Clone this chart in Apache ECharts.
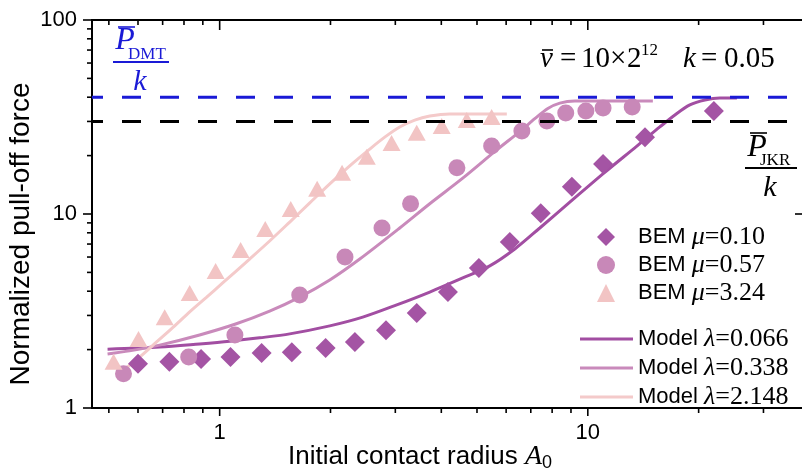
<!DOCTYPE html>
<html>
<head>
<meta charset="utf-8">
<script src="https://cdn.jsdelivr.net/npm/echarts@6/dist/echarts.min.js"></script>
<style>html,body{margin:0;padding:0;background:#fff}#chart{width:802px;height:474px}</style>
</head>
<body>
<div id="chart"></div>
<script>
// ---- axis ranges and ticks ----
const xMin = 0.45, xMax = 38.9, yMin = 1, yMax = 100;
const xMajorTicks = [1, 10];
const xMinorTicks = [0.5, 0.6, 0.7, 0.8, 0.9, 2, 3, 4, 5, 6, 7, 8, 9, 20, 30];
const yMajorTicks = [1, 10, 100];
const yMinorTicks = [2, 3, 4, 5, 6, 7, 8, 9, 20, 30, 40, 50, 60, 70, 80, 90];

// ---- reference levels ----
const dmtLevel = 40;   // P_DMT / k
const jkrLevel = 30;   // P_JKR / k

// ---- BEM data [A0, force] ----
const bemMu010 = [[0.60,1.69],[0.73,1.73],[0.89,1.79],[1.07,1.83],[1.30,1.92],[1.57,1.94],[1.94,2.04],[2.33,2.19],[2.83,2.52],[3.43,3.09],[4.17,3.96],[5.06,5.27],[6.14,7.17],[7.45,10.1],[9.05,13.8],[11.0,18.1],[14.3,24.9],[22.0,34.0]];
const bemMu057 = [[0.548,1.50],[0.824,1.83],[1.10,2.38],[1.65,3.82],[2.19,6.0],[2.76,8.47],[3.30,11.3],[4.41,17.3],[5.48,22.4],[6.62,26.8],[7.74,30.2],[8.71,33.2],[9.88,34.0],[11.0,35.2],[13.2,35.6]];
const bemMu324 = [[0.515,1.73],[0.602,2.27],[0.709,2.94],[0.829,3.92],[0.975,5.08],[1.14,6.52],[1.33,8.37],[1.56,10.6],[1.84,13.5],[2.15,16.3],[2.51,19.7],[2.93,23.2],[3.43,26.2],[4.01,28.4],[4.69,30.5],[5.48,31.6]];

// ---- model curves [A0, force] ----
const modelLam0066 = [[0.496,2.01],[0.687,2.06],[0.882,2.14],[1.065,2.21],[1.284,2.30],[1.550,2.41],[1.991,2.65],[2.447,2.94],[3.027,3.40],[3.721,3.96],[4.574,4.68],[5.416,5.40],[6.334,6.60],[7.405,8.47],[8.935,11.5],[10.99,16.1],[13.59,22.4],[15.69,28.1],[17.24,32.4],[18.93,36.5],[20.80,38.7],[22.84,39.6],[25.41,39.6]];
const modelLam0338 = [[0.496,1.90],[0.569,1.97],[0.687,2.11],[0.882,2.38],[1.105,2.71],[1.367,3.16],[1.650,3.73],[1.991,4.57],[2.402,5.86],[3.084,8.47],[3.721,11.3],[4.574,15.3],[5.658,21.4],[6.535,26.6],[7.178,31.0],[7.788,35.0],[8.395,37.3],[9.220,38.2],[15.02,38.2]];
const modelLam2148 = [[0.548,1.57],[0.606,1.83],[0.674,2.19],[0.755,2.65],[0.829,3.13],[0.922,3.73],[1.019,4.41],[1.206,5.86],[1.367,7.26],[1.550,9.09],[1.757,11.4],[1.991,14.3],[2.256,17.7],[2.556,21.6],[2.808,24.9],[3.084,28.1],[3.388,30.5],[3.721,32.0],[4.217,32.8],[6.026,32.8]];

// ---- legend names ----
const scatterNames = ['BEM μ=0.10', 'BEM μ=0.57', 'BEM μ=3.24'];
const scatterIcons = ['diamond', 'circle', 'triangle'];
const modelNames = ['Model λ=0.066', 'Model λ=0.338', 'Model λ=2.148'];
const legendRich = {
  'BEM μ=0.10': '{s|BEM }{g|μ}{n|=0.10}',
  'BEM μ=0.57': '{s|BEM }{g|μ}{n|=0.57}',
  'BEM μ=3.24': '{s|BEM }{g|μ}{n|=3.24}',
  'Model λ=0.066': '{s|Model }{g|λ}{n|=0.066}',
  'Model λ=0.338': '{s|Model }{g|λ}{n|=0.338}',
  'Model λ=2.148': '{s|Model }{g|λ}{n|=2.148}'
};

const cDark = '#a454a4', cMid = '#c888b8', cLight = '#f2c4c4';
const lDark = '#a24ea2', lMid = '#c98abb', lLight = '#f4caca';
const blue = '#1a1ad6';
const SANS = 'Liberation Sans', SERIF = 'Liberation Serif';

const richStyles = {
  s: {fontFamily: SANS, fontSize: 22, lineHeight: 26, color: '#000'},
  g: {fontFamily: SERIF, fontStyle: 'italic', fontSize: 26, lineHeight: 26, color: '#000'},
  n: {fontFamily: SERIF, fontSize: 26, lineHeight: 26, color: '#000'}
};

function isPow10(v) { const l = Math.log10(v); return Math.abs(l - Math.round(l)) < 1e-6; }

function xTickItem(params, api) {
  const v = api.value(0);
  const major = xMajorTicks.indexOf(v) >= 0;
  const b = api.coord([v, yMin]), t = api.coord([v, yMax]);
  const lb = major ? 8 : 5, lt = major ? 10 : 5;
  return {type: 'group', children: [
    {type: 'line', shape: {x1: b[0], y1: b[1], x2: b[0], y2: b[1] + lb}, style: {stroke: '#000', lineWidth: 1.6}},
    {type: 'line', shape: {x1: t[0], y1: t[1], x2: t[0], y2: t[1] + lt}, style: {stroke: '#000', lineWidth: 1.6}}
  ]};
}
function yTickItem(params, api) {
  const v = api.value(1);
  const major = yMajorTicks.indexOf(v) >= 0;
  const l = api.coord([xMin, v]), r = api.coord([xMax, v]);
  const ll = major ? 9 : 5;
  const children = [
    {type: 'line', shape: {x1: l[0] - ll, y1: l[1], x2: l[0], y2: l[1]}, style: {stroke: '#000', lineWidth: 1.6}}
  ];
  if (major) children.push({type: 'line', shape: {x1: r[0] - 10, y1: r[1], x2: r[0], y2: r[1]}, style: {stroke: '#000', lineWidth: 1.6}});
  return {type: 'group', children: children};
}

function txt(x, y, text, size, opts) {
  opts = opts || {};
  return {type: 'text', x: x, y: y, z: 100, style: {
    text: text, fontFamily: opts.family || SERIF, fontStyle: opts.italic ? 'italic' : 'normal',
    fontSize: size, fill: opts.color || '#000', align: opts.align || 'left', verticalAlign: 'middle'
  }};
}
function hline(x1, x2, y, color, w) {
  return {type: 'line', z: 100, shape: {x1: x1, y1: y, x2: x2, y2: y}, style: {stroke: color, lineWidth: w}};
}

const chart = echarts.init(document.getElementById('chart'), null, {renderer: 'canvas'});
chart.setOption({
  animation: false,
  backgroundColor: '#fff',
  grid: {left: 92, top: 20, right: -3, bottom: 66, show: true, borderColor: '#000', borderWidth: 2, containLabel: false, outerBoundsMode: 'none'},
  xAxis: {
    type: 'log', logBase: 10, min: xMin, max: xMax,
    axisLine: {show: true, lineStyle: {color: '#000', width: 2}},
    axisTick: {show: false}, minorTick: {show: false}, splitLine: {show: false},
    axisLabel: {color: '#000', fontFamily: SANS, fontSize: 22, margin: 14,
      formatter: v => isPow10(v) ? String(Math.round(v) >= 1 ? Math.round(v) : v) : '',
      showMinLabel: false, showMaxLabel: false}
  },
  yAxis: {
    type: 'log', logBase: 10, min: yMin, max: yMax,
    axisLine: {show: true, lineStyle: {color: '#000', width: 2}},
    axisTick: {show: false}, minorTick: {show: false}, splitLine: {show: false},
    axisLabel: {color: '#000', fontFamily: SANS, fontSize: 22, margin: 15,
      formatter: v => isPow10(v) ? String(Math.round(v)) : ''}
  },
  legend: [
    {data: scatterNames.map((n, i) => ({name: n, icon: scatterIcons[i]})), orient: 'vertical', left: 597, top: 224,
     itemWidth: 18, itemHeight: 18, itemGap: 2, symbolKeepAspect: true,
     padding: 0, formatter: n => legendRich[n], textStyle: {rich: richStyles, padding: [0, 0, 0, 18]}, selectedMode: false},
    {data: modelNames.map(n => ({name: n, icon: 'rect'})), orient: 'vertical', left: 580, top: 326,
     itemWidth: 53, itemHeight: 3, itemGap: 3,
     padding: 0, formatter: n => legendRich[n], textStyle: {rich: richStyles}, selectedMode: false}
  ],
  series: [
    {name: modelNames[0], type: 'line', data: modelLam0066, showSymbol: false, symbol: 'none', smooth: 0.3,
     lineStyle: {color: lDark, width: 3}, itemStyle: {color: lDark}, z: 2},
    {name: modelNames[1], type: 'line', data: modelLam0338, showSymbol: false, symbol: 'none', smooth: 0.3,
     lineStyle: {color: lMid, width: 3}, itemStyle: {color: lMid}, z: 2},
    {name: modelNames[2], type: 'line', data: modelLam2148, showSymbol: false, symbol: 'none', smooth: 0.3,
     lineStyle: {color: lLight, width: 3}, itemStyle: {color: lLight}, z: 2},
    {name: scatterNames[0], type: 'scatter', data: bemMu010, symbol: 'diamond', symbolSize: 20, itemStyle: {color: cDark, opacity: 1}, z: 3},
    {name: scatterNames[1], type: 'scatter', data: bemMu057, symbol: 'circle', symbolSize: 17, itemStyle: {color: cMid, opacity: 1}, z: 3},
    {name: scatterNames[2], type: 'scatter', data: bemMu324, symbol: 'triangle', symbolSize: [18, 16], itemStyle: {color: cLight, opacity: 1}, z: 3},
    {name: 'DMT', type: 'line', data: [[xMin, dmtLevel], [xMax, dmtLevel]], symbol: 'none', silent: true, z: 4,
     lineStyle: {color: blue, width: 3, type: [19, 19], dashOffset: 8}},
    {name: 'JKR', type: 'line', data: [[xMin, jkrLevel], [xMax, jkrLevel]], symbol: 'none', silent: true, z: 4,
     lineStyle: {color: '#000', width: 3, type: [19, 19], dashOffset: 8}},
    {name: 'xticks', type: 'custom', coordinateSystem: 'cartesian2d', silent: true, clip: false, z: 5,
     data: xMajorTicks.concat(xMinorTicks).map(v => [v, yMin]), renderItem: xTickItem},
    {name: 'yticks', type: 'custom', coordinateSystem: 'cartesian2d', silent: true, clip: false, z: 5,
     data: yMajorTicks.concat(yMinorTicks).map(v => [xMin, v]), renderItem: yTickItem}
  ],
  graphic: [
    {type: 'text', x: 21, y: 234, rotation: Math.PI / 2, z: 100,
     style: {text: 'Normalized pull-off force', fontFamily: SANS, fontSize: 28, fill: '#000', align: 'center', verticalAlign: 'middle'}},
    {type: 'text', x: 288, y: 457, z: 100,
     style: {text: '{n|Initial contact radius }{a|A}{s|0}', verticalAlign: 'middle', fill: '#000',
       rich: {n: {fontFamily: SANS, fontSize: 26, lineHeight: 30}, a: {fontFamily: SERIF, fontStyle: 'italic', fontSize: 28, lineHeight: 30},
              s: {fontFamily: SANS, fontSize: 18, lineHeight: 12, verticalAlign: 'bottom'}}}},
    // P_DMT / k (blue)
    txt(125, 41, 'P', 32, {italic: true, color: blue, align: 'center'}),
    hline(118, 135, 27, blue, 1.6),
    txt(128, 55, 'DMT', 17, {color: blue}),
    hline(113, 169, 62, blue, 2),
    txt(140, 82, 'k', 30, {italic: true, color: blue, align: 'center'}),
    // P_JKR / k (black)
    txt(757, 148, 'P', 32, {italic: true, align: 'center'}),
    hline(750, 767, 133, '#000', 1.6),
    txt(760, 161, 'JKR', 17),
    hline(745, 797, 168, '#000', 2),
    txt(770, 188, 'k', 30, {italic: true, align: 'center'}),
    // v = 10 x 2^12   k = 0.05
    txt(540, 59, 'v', 29, {italic: true}),
    hline(542, 553, 50, '#000', 1.6),
    txt(560, 59, '=', 29),
    txt(581, 59, '10', 29),
    txt(610, 59, '×', 29),
    txt(627, 59, '2', 29),
    txt(641, 51, '12', 17),
    txt(683, 59, 'k', 29, {italic: true}),
    txt(701, 59, '=', 29),
    txt(724, 59, '0.05', 29)
  ]
});
</script>
</body>
</html>
